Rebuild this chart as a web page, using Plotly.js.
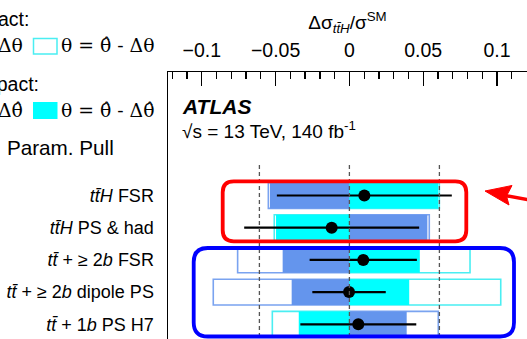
<!DOCTYPE html>
<html><head><meta charset="utf-8">
<script src="https://cdn.plot.ly/plotly-3.0.1.min.js"></script>
<style>html,body{margin:0;padding:0;overflow:hidden;background:#fff}#chart{width:527px;height:339px}</style>
</head><body><div id="chart"></div>
<script>
// ---- data ----
const rowLabels = [
  "<i>tt\u0304H</i> FSR",
  "<i>tt\u0304H</i> PS &amp; had",
  "<i>tt\u0304</i> + \u2265 2<i>b</i> FSR",
  "<i>tt\u0304</i> + \u2265 2<i>b</i> dipole PS",
  "<i>tt\u0304</i> + 1<i>b</i> PS H7"
];
const rowPos = [0, 1, 2, 3, 4];
const preUp    = [-0.0549,  0.0541, -0.0757, -0.0922,  0.0602];
const preDown  = [ 0.0609, -0.0509,  0.0817,  0.1025, -0.0522];
const postUp   = [-0.0538,  0.0528, -0.0452, -0.0391,  0.0388];
const postDown = [ 0.0602, -0.0497,  0.0477,  0.0405, -0.0343];
const pulls    = [ 0.166, -0.197, 0.154, -0.004, 0.099];
const pullErr  = [ 0.972,  0.972, 0.596,  0.408, 0.644];
const pullRefs = [-1, 0, 1];
const impactTicks = [-0.1, -0.05, 0, 0.05, 0.1];
const impactTickText = ["\u22120.1", "\u22120.05", "0", "0.05", "0.1"];

// ---- geometry ----
const W = 527, H = 339, L = 168, T = 72;
const PW = W - L, PH = H - T;
const px2x = p => (p - L) / PW;
const px2y = p => (H - p) / PH;

const BLUE = '#6495ed', CYAN = '#00ffff';
const BLUE_LINE = '#7aa3f0', CYAN_LINE = '#4aeef2';
const SANS = 'Liberation Sans, Arial, sans-serif';
const SERIF = 'DejaVu Serif, serif';

const barCommon = {type: 'bar', orientation: 'h', y: rowPos, width: 0.8, hoverinfo: 'skip', showlegend: false};
const traces = [
  Object.assign({}, barCommon, {x: preUp, marker: {color: 'rgba(0,0,0,0)', line: {color: BLUE_LINE, width: 1.6}}}),
  Object.assign({}, barCommon, {x: preDown, marker: {color: 'rgba(0,0,0,0)', line: {color: CYAN_LINE, width: 1.6}}}),
  Object.assign({}, barCommon, {x: postUp, marker: {color: BLUE, line: {width: 0}}}),
  Object.assign({}, barCommon, {x: postDown, marker: {color: CYAN, line: {width: 0}}}),
  {type: 'scatter', mode: 'markers', x: pulls, y: rowPos, xaxis: 'x2', yaxis: 'y',
   marker: {color: '#000', size: 12},
   error_x: {type: 'data', array: pullErr, color: '#000', thickness: 2.2, width: 0},
   hoverinfo: 'skip', showlegend: false}
];

function roundRect(x0, y0, x1, y1, r) {
  const X = px2x, Y = px2y;
  return 'M' + X(x0 + r) + ',' + Y(y0) +
    ' L' + X(x1 - r) + ',' + Y(y0) +
    ' Q' + X(x1) + ',' + Y(y0) + ' ' + X(x1) + ',' + Y(y0 + r) +
    ' L' + X(x1) + ',' + Y(y1 - r) +
    ' Q' + X(x1) + ',' + Y(y1) + ' ' + X(x1 - r) + ',' + Y(y1) +
    ' L' + X(x0 + r) + ',' + Y(y1) +
    ' Q' + X(x0) + ',' + Y(y1) + ' ' + X(x0) + ',' + Y(y1 - r) +
    ' L' + X(x0) + ',' + Y(y0 + r) +
    ' Q' + X(x0) + ',' + Y(y0) + ' ' + X(x0 + r) + ',' + Y(y0) + ' Z';
}
function poly(pts) {
  return 'M' + pts.map(p => px2x(p[0]) + ',' + px2y(p[1])).join(' L') + ' Z';
}

const shapes = [];
pullRefs.forEach(v => shapes.push({type: 'line', xref: 'x2', yref: 'y', x0: v, x1: v, y0: -0.95, y1: 4.5,
  line: {color: '#555', width: 1.3, dash: '4px,3px'}}));
shapes.push({type: 'path', xref: 'paper', yref: 'paper', path: roundRect(222.7, 181.3, 466.3, 241.3, 11), line: {color: '#ff0000', width: 3.8}});
shapes.push({type: 'path', xref: 'paper', yref: 'paper', path: roundRect(193.7, 248, 514, 336.5, 14), line: {color: '#0000ff', width: 3.8}});
shapes.push({type: 'path', xref: 'paper', yref: 'paper', path: poly([[485, 191], [512, 185.5], [506.5, 196], [509, 205]]), fillcolor: '#ff0000', line: {color: '#ff0000', width: 1}});
shapes.push({type: 'line', xref: 'paper', yref: 'paper', x0: px2x(505), y0: px2y(195.5), x1: px2x(532), y1: px2y(200.5), line: {color: '#ff0000', width: 3.5}});
// legend boxes
shapes.push({type: 'rect', xref: 'paper', yref: 'paper', x0: px2x(33.5), x1: px2x(57), y0: px2y(38.5), y1: px2y(54), line: {color: CYAN_LINE, width: 1.5}});
shapes.push({type: 'rect', xref: 'paper', yref: 'paper', x0: px2x(33), x1: px2x(57.5), y0: px2y(102), y1: px2y(119), fillcolor: CYAN, line: {width: 0}});

function ann(text, xpx, ypx, xanchor, size, family) {
  return {text: text, xref: 'paper', yref: 'paper', x: px2x(xpx), y: px2y(ypx), xanchor: xanchor, yanchor: 'middle',
    showarrow: false, font: {size: size, family: family || SANS, color: '#000'}};
}
const annotations = [
  ann('<b><i>ATLAS</i></b>', 180, 106.5, 'left', 21),
  ann('\u221As = 13 TeV, 140 fb<sup>-1</sup>', 180, 130, 'left', 19),
  ann('Pre-fit Impact:', 31, 19, 'right', 19.5),
  ann('\u03b8 = \u03b8\u0302 + \u0394\u03b8', 25, 45.5, 'right', 18.8, SERIF),
  ann('\u03b8 = \u03b8\u0302 - \u0394\u03b8', 59, 45.5, 'left', 18.8, SERIF),
  ann('Post-fit Impact:', 41, 84, 'right', 19.5),
  ann('\u03b8 = \u03b8\u0302 + \u0394\u03b8\u0302', 25, 110, 'right', 18.8, SERIF),
  ann('\u03b8 = \u03b8\u0302 - \u0394\u03b8\u0302', 59, 110, 'left', 18.8, SERIF),
  ann('Nuis. Param. Pull', 116, 147, 'right', 20.7)
];

const layout = {
  width: W, height: H,
  margin: {l: L, r: 0, t: T, b: 0, pad: 0},
  paper_bgcolor: '#fff', plot_bgcolor: '#fff',
  showlegend: false, barmode: 'overlay',
  font: {family: SANS, color: '#000'},
  xaxis: {
    side: 'top', range: [(L - 349.4) / 1476.5, (W - 349.4) / 1476.5],
    tickmode: 'array', tickvals: impactTicks, ticktext: impactTickText,
    ticks: 'inside', ticklen: 14, tickwidth: 1.3, tickcolor: '#000',
    minor: {tickmode: 'linear', tick0: 0, dtick: 0.01, ticks: 'inside', ticklen: 7, tickwidth: 1.3, tickcolor: '#000'},
    showline: true, linewidth: 1.5, linecolor: '#000',
    showgrid: false, zeroline: false, fixedrange: true,
    tickfont: {size: 19.5, family: SANS, color: '#000'},
    ticklabelstandoff: 6,
    title: {text: '\u0394\u03c3<sub><i>tt\u0304H</i></sub>/\u03c3<sup>SM</sup>', font: {size: 19, family: SANS, color: '#000'}, standoff: 4}
  },
  xaxis2: {overlaying: 'x', range: [(L - 349.4) / 90, (W - 349.4) / 90], visible: false, fixedrange: true},
  yaxis: {
    range: [(H - 195.5) / 32.2, -(195.5 - T) / 32.2],
    tickmode: 'array', tickvals: rowPos, ticktext: rowLabels,
    ticks: '', showline: true, linewidth: 1.5, linecolor: '#000',
    showgrid: false, zeroline: false, fixedrange: true,
    tickfont: {size: 18, family: SANS, color: '#000'},
    ticklabelstandoff: 9
  },
  shapes: shapes,
  annotations: annotations
};

Plotly.newPlot('chart', traces, layout, {displayModeBar: false, staticPlot: true});
</script>
</body></html>
